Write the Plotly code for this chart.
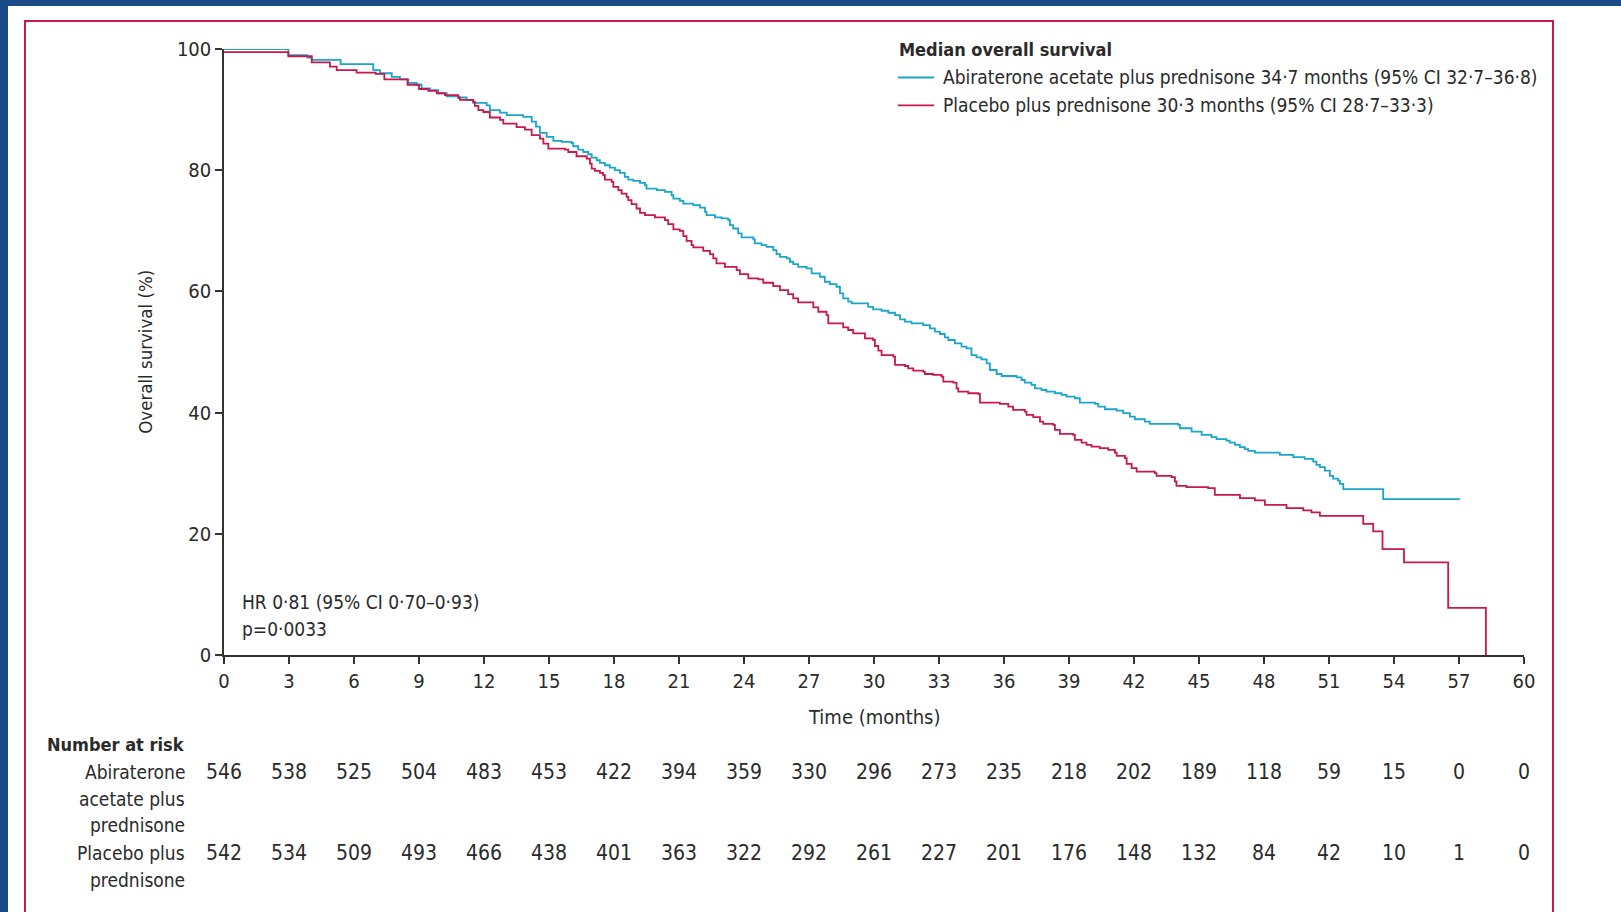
import plotly.graph_objects as go

# ---------------- data ----------------
abi_time = [0, 2.97, 3.85, 4.05, 5.38, 6.89, 7.2, 7.74, 8.12, 8.51, 8.89, 9.12, 9.51, 9.89, 10.28,
            10.81, 11.2, 11.5, 12.12, 12.27, 12.74, 13.05, 13.81, 14.2, 14.4, 14.58, 14.89, 15.2,
            15.58, 16.04, 16.12, 16.35, 16.58, 16.81, 16.97, 17.2, 17.35, 17.58, 17.81, 18.04,
            18.27, 18.5, 18.66, 18.89, 19.2, 19.43, 19.5, 19.97, 20.35, 20.66, 20.74, 21.04, 21.2,
            21.66, 21.97, 22.2, 22.27, 22.66, 22.97, 23.27, 23.35, 23.5, 23.73, 23.89, 24.43, 24.5,
            24.81, 25.04, 25.35, 25.5, 25.66, 25.97, 26.12, 26.27, 26.5, 26.89, 27.12, 27.5, 27.73,
            27.96, 28.27, 28.43, 28.58, 28.81, 28.97, 29.73, 29.96, 30.35, 30.66, 30.97, 31.2,
            31.43, 31.73, 32.27, 32.58, 32.81, 33.04, 33.27, 33.43, 33.73, 34.04, 34.27, 34.5,
            34.73, 34.96, 35.2, 35.35, 35.66, 35.89, 36.58, 36.81, 36.96, 37.27, 37.43, 37.73,
            37.96, 38.35, 38.66, 38.89, 39.27, 39.5, 40.2, 40.35, 40.66, 41.2, 41.5, 41.81, 42.04,
            42.5, 42.73, 44.04, 44.12, 44.66, 45.12, 45.58, 45.81, 46.27, 46.42, 46.66, 46.89,
            47.12, 47.27, 47.58, 48.73, 49.35, 49.88, 50.27, 50.42, 50.58, 50.81, 51.04, 51.19,
            51.42, 51.5, 51.66, 53.5, 57.04]
abi_surv = [100, 99.0, 98.6, 98.2, 97.5, 96.5, 96.0, 95.4, 95.0, 94.4, 94.1, 93.5, 93.2, 92.7, 92.2,
            92.0, 91.6, 91.1, 90.7, 89.9, 89.5, 89.1, 88.8, 88.0, 87.2, 86.15, 85.49, 84.83,
            84.66, 84.49, 83.95, 83.4, 83.0, 82.63, 82.08, 81.64, 81.2, 80.82, 80.43, 80.0,
            79.56, 78.9, 78.45, 78.24, 77.9, 77.52, 76.97, 76.7, 76.42, 75.87, 75.32, 74.94, 74.5,
            74.23, 73.84, 73.13, 72.58, 72.2, 72.04, 71.76, 70.93, 70.38, 69.56, 68.9, 68.58, 67.92,
            67.64, 67.36, 66.81, 66.15, 65.71, 65.44, 64.89, 64.5, 64.06, 63.79, 62.97, 62.42, 61.59,
            61.21, 60.77, 59.67, 58.85, 58.3, 58.02, 57.46, 57.04, 56.81, 56.48, 56.1, 55.39,
            55.0, 54.73, 54.45, 53.9, 53.35, 52.97, 52.42, 51.98, 51.43, 50.88, 50.6, 49.5,
            49.12, 48.79, 48.13, 47.03, 46.37, 46.04, 45.82, 45.38, 44.94, 44.56, 44.01, 43.73,
            43.46, 43.19, 42.91, 42.63, 42.37, 41.64, 41.43, 40.99, 40.55, 40.33, 39.9, 39.34, 38.9,
            38.52, 38.13, 37.97, 37.42, 36.86, 36.32, 35.94, 35.61, 35.38, 35.05, 34.67, 34.29,
            33.96, 33.69, 33.41, 33.03, 32.65, 32.37, 31.92, 31.38, 31.0, 30.44, 29.56, 29.12,
            28.79, 28.25, 27.37, 25.73, 25.73]

pla_time = [0, 2.97, 4.05, 4.89, 5.2, 6.12, 7.0, 7.4, 8.47, 9.0, 9.43, 9.82, 10.2, 10.81, 10.89,
            11.5, 11.58, 11.74, 11.97, 12.27, 12.74, 12.89, 13.5, 13.89, 14.2, 14.58, 14.74, 14.97,
            15.74, 15.89, 16.27, 16.74, 16.89, 16.97, 17.12, 17.35, 17.5, 17.58, 17.89, 17.97,
            18.2, 18.35, 18.58, 18.66, 18.81, 19.04, 19.2, 19.43, 19.89, 20.35, 20.5, 20.74, 21.04,
            21.2, 21.35, 21.58, 21.66, 22.12, 22.43, 22.58, 22.73, 23.12, 23.66, 23.81, 24.2, 24.66,
            24.89, 25.35, 25.66, 26.04, 26.27, 26.5, 27.2, 27.43, 27.81, 27.89, 28.58, 28.81, 29.04,
            29.58, 29.96, 30.04, 30.2, 30.35, 30.89, 30.97, 31.43, 31.58, 31.81, 32.27, 32.35,
            32.73, 33.12, 33.2, 33.66, 33.81, 33.89, 34.35, 34.81, 34.89, 35.81, 36.2, 36.42,
            36.96, 37.04, 37.35, 37.66, 37.81, 38.27, 38.35, 38.58, 39.19, 39.27, 39.58, 39.81,
            40.04, 40.42, 40.81, 41.12, 41.2, 41.58, 41.66, 41.89, 42.12, 42.96, 43.04, 43.73,
            43.89, 43.96, 44.42, 45.42, 45.73, 46.89, 47.58, 48.04, 49.04, 49.81, 50.19, 50.58,
            52.58, 53.04, 53.47, 54.46, 56.5, 58.24]
pla_surv = [99.5, 98.8, 97.8, 97.1, 96.5, 96.1, 95.9, 95.0, 94.1, 93.4, 93.1, 92.7, 92.4, 92.0, 91.6,
            91.3, 90.6, 89.9, 89.6, 88.7, 88.3, 87.7, 87.1, 86.7, 85.8, 85.2, 84.39, 83.57,
            83.4, 83.0, 82.3, 81.92, 81.09, 80.27, 79.88, 79.55, 79.17, 78.45, 78.07, 77.25,
            76.7, 76.15, 75.6, 75.05, 74.39, 73.68, 72.96, 72.58, 72.2, 71.76, 71.1, 70.22, 70.0,
            69.12, 68.35, 67.64, 67.25, 66.7, 66.15, 65.44, 64.62, 64.06, 63.51, 62.85, 62.14, 61.98,
            61.43, 60.88, 60.22, 59.56, 58.85, 58.19, 57.37, 56.64, 56.1, 54.73, 54.07, 53.63, 53.08,
            52.25, 51.98, 50.99, 50.22, 49.5, 49.23, 47.86, 47.69, 47.31, 46.92, 46.75, 46.37,
            46.21, 45.93, 45.1, 44.94, 44.01, 43.46, 43.19, 43.08, 41.64, 41.43, 40.99, 40.44,
            40.16, 39.62, 39.24, 38.52, 38.13, 37.97, 37.15, 36.49, 36.32, 35.5, 35.05, 34.67,
            34.39, 34.13, 33.85, 33.4, 32.86, 32.48, 31.54, 30.83, 30.27, 30.0, 29.56, 29.35,
            28.63, 27.92, 27.7, 27.54, 26.43, 25.88, 25.5, 24.78, 24.24, 23.85, 23.52, 22.97,
            21.65, 20.39, 17.48, 15.27, 7.76, 0]

risk_times = [0, 3, 6, 9, 12, 15, 18, 21, 24, 27, 30, 33, 36, 39, 42, 45, 48, 51, 54, 57, 60]
risk_abi = [546, 538, 525, 504, 483, 453, 422, 394, 359, 330, 296, 273, 235, 218, 202, 189, 118, 59, 15, 0, 0]
risk_pla = [542, 534, 509, 493, 466, 438, 401, 363, 322, 292, 261, 227, 201, 176, 148, 132, 84, 42, 10, 1, 0]

x_ticks = list(range(0, 61, 3))
y_ticks = [0, 20, 40, 60, 80, 100]

name_abi = "Abiraterone acetate plus prednisone 34·7 months (95% CI 32·7–36·8)"
name_pla = "Placebo plus prednisone 30·3 months (95% CI 28·7–33·3)"

# ---------------- style ----------------
W, H = 1621, 912
L, R, T, B = 224, 1524, 49, 655.4
CYAN = "#1aa6cb"
RED = "#c8184c"
TXT = "#2a2a2a"
FONT = "Liberation Sans Narrow, DejaVu Sans Condensed, Arial Narrow, sans-serif"


def px(x):
    return (x - L) / (R - L)


def py(y):
    return (B - y) / (B - T)


fig = go.Figure()
fig.add_trace(go.Scatter(x=abi_time, y=abi_surv, mode="lines", line=dict(color=CYAN, width=1.8, shape="hv"),
                         name=name_abi, showlegend=False, cliponaxis=False))
fig.add_trace(go.Scatter(x=pla_time, y=pla_surv, mode="lines", line=dict(color=RED, width=1.8, shape="hv"),
                         name=name_pla, showlegend=False, cliponaxis=False))

shapes = [
    # white panel
    dict(type="rect", xref="paper", yref="paper", x0=px(8), x1=px(1660), y0=py(960), y1=py(6),
         fillcolor="white", line=dict(width=0), layer="below"),
    # crimson frame
    dict(type="rect", xref="paper", yref="paper", x0=px(25), x1=px(1553), y0=py(960), y1=py(21),
         fillcolor="rgba(0,0,0,0)", line=dict(color="#c8184c", width=2), layer="below"),
    # legend samples
    dict(type="line", xref="paper", yref="paper", x0=px(898), x1=px(934), y0=py(77.5), y1=py(77.5),
         line=dict(color=CYAN, width=1.8)),
    dict(type="line", xref="paper", yref="paper", x0=px(898), x1=px(934), y0=py(105.5), y1=py(105.5),
         line=dict(color=RED, width=1.8)),
]

ann = []


def text(x, y, s, size=20, xanchor="left", bold=False, xref="paper"):
    ann.append(dict(x=x, y=py(y), xref=xref, yref="paper", text=("<b>%s</b>" % s) if bold else s,
                    showarrow=False, xanchor=xanchor, yanchor="middle",
                    font=dict(family=FONT, size=size, color=TXT)))


text(px(897), 50, "Median overall survival", size=18, bold=True)
text(px(941), 77.5, name_abi, size=19)
text(px(941), 105.5, name_pla, size=19)
text(px(240), 602, "HR 0·81 (95% CI 0·70–0·93)", size=19)
text(px(240), 629, "p=0·0033", size=19)
text(px(874), 717, "Time (months)", size=20, xanchor="center")

text(px(187), 745, "Number at risk", size=18, xanchor="right", bold=True)
for lab, yy in [("Abiraterone", 772), ("acetate plus", 799), ("prednisone", 826),
                ("Placebo plus", 854), ("prednisone", 881)]:
    text(px(187), yy, lab, size=19, xanchor="right")
for t, a, p in zip(risk_times, risk_abi, risk_pla):
    text(t, 772, str(a), size=21, xanchor="center", xref="x")
    text(t, 854, str(p), size=21, xanchor="center", xref="x")

ann.append(dict(x=px(146), y=py(352), xref="paper", yref="paper", text="Overall survival (%)",
                textangle=-90, showarrow=False, xanchor="center", yanchor="middle",
                font=dict(family=FONT, size=18.5, color=TXT)))

fig.update_layout(
    width=W, height=H, autosize=False,
    margin=dict(l=L, r=W - R, t=T, b=H - B),
    paper_bgcolor="#1a4a88", plot_bgcolor="white",
    shapes=shapes, annotations=ann, showlegend=False,
    font=dict(family=FONT, color=TXT),
)
fig.update_xaxes(range=[0, 60], tickvals=x_ticks, showgrid=False, zeroline=False, showline=True,
                 linecolor="#333", linewidth=1.5, ticks="outside", ticklen=7, tickwidth=1.5, tickcolor="#333",
                 tickfont=dict(family=FONT, size=20, color=TXT))
fig.update_yaxes(range=[0, 100], tickvals=y_ticks, showgrid=False, zeroline=False, showline=True,
                 linecolor="#333", linewidth=1.5, ticks="outside", ticklen=7, tickwidth=1.5, tickcolor="#333",
                 tickfont=dict(family=FONT, size=20, color=TXT))

fig.write_html("out.html")
